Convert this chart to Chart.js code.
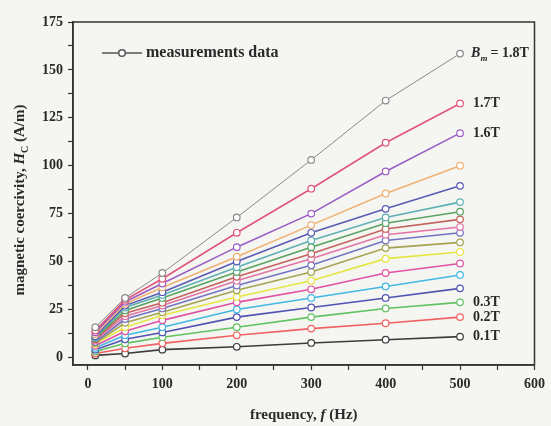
<!DOCTYPE html>
<html>
<head>
<meta charset="utf-8">
<script src="https://cdn.jsdelivr.net/npm/chart.js@4/dist/chart.umd.min.js"></script>
<style>
  body { margin: 0; background: #f5f5f2; }
  canvas { display: block; }
</style>
</head>
<body>
<canvas id="hcChart" width="551" height="426"></canvas>
<script>
// frequency points (Hz)
const freq = [10, 50, 100, 200, 300, 400, 500];

// coercivity Hc (A/m) for each peak flux density Bm
const hc18 = [15.7, 31, 44, 73, 103, 134, 158.5];
const hc17 = [14, 30, 41, 65, 88, 112, 132.5];
const hc16 = [13, 29, 38.5, 57.5, 75, 97, 117];
const hc15 = [12, 28, 36.5, 52.5, 69, 85.5, 100];
const hc14 = [11, 27, 34, 50, 65, 77.5, 89.5];
const hc13 = [10.5, 26, 32.5, 47, 61, 73, 81];
const hc12 = [10, 24.5, 31, 44.5, 57.5, 70, 76];
const hc11 = [9.5, 23, 28.5, 42, 54, 67, 72];
const hc10 = [8.8, 21.5, 27, 40, 51.5, 64, 68];
const hc09 = [8, 20, 25.5, 37.5, 48, 61, 65];
const hc08 = [7.5, 18, 23.5, 35, 44.5, 57, 60];
const hc07 = [7, 15.7, 22, 31.5, 40, 51.5, 55];
const hc06 = [6, 13.6, 19.3, 28.7, 35.5, 44, 49];
const hc05 = [5, 11.5, 15.7, 25, 31, 37, 43];
const hc04 = [4, 9.4, 13, 21, 26, 31, 36];
const hc03 = [3, 7.3, 10.5, 15.7, 21, 25.5, 28.7];
const hc02 = [2, 4.7, 7.3, 11.5, 15, 17.8, 21];
const hc01 = [1, 2, 4, 5.5, 7.5, 9.2, 10.8];

const bmLabels = ['1.8T', '1.7T', '1.6T', '1.5T', '1.4T', '1.3T', '1.2T', '1.1T', '1.0T',
                  '0.9T', '0.8T', '0.7T', '0.6T', '0.5T', '0.4T', '0.3T', '0.2T', '0.1T'];
const series = [hc18, hc17, hc16, hc15, hc14, hc13, hc12, hc11, hc10,
                hc09, hc08, hc07, hc06, hc05, hc04, hc03, hc02, hc01];
const colors = ['#8a8a8a', '#e0557a', '#9b5fc4', '#f0b274', '#5b5bb4', '#5fb0b4',
                '#5aa463', '#c4625f', '#e274a6', '#7474c4', '#a4a452', '#e6e642',
                '#e052a4', '#42b8e2', '#5252b2', '#62c262', '#f06262', '#3c3c3c'];
// which series get a text tag at their right end
const tagged = { '1.8T': 'Bm', '1.7T': '1.7T', '1.6T': '1.6T', '0.3T': '0.3T', '0.2T': '0.2T', '0.1T': '0.1T' };
const legendText = 'measurements data';

const serif = "'Liberation Serif', 'DejaVu Serif', serif";
const ink = '#2a2a2a';

const datasets = series.map((vals, i) => ({
    label: bmLabels[i],
    data: freq.map((f, k) => ({ x: f, y: vals[k] })),
    borderColor: colors[i],
    borderWidth: i === 0 ? 1 : 1.6,
    pointRadius: 3.3,
    pointBackgroundColor: '#ffffff',
    pointBorderColor: colors[i],
    pointBorderWidth: 1.2,
    fill: false,
    tension: 0
}));

const framePlugin = {
    id: 'frame',
    afterDraw(chart) {
        const { ctx, chartArea: a } = chart;
        ctx.save();
        ctx.strokeStyle = '#333';
        ctx.lineWidth = 1.5;
        ctx.strokeRect(a.left, a.top, a.right - a.left, a.bottom - a.top);

        // legend: line with an open circle, then the text
        const ly = a.top + 31;
        ctx.strokeStyle = '#555';
        ctx.lineWidth = 1.5;
        ctx.beginPath(); ctx.moveTo(a.left + 29, ly); ctx.lineTo(a.left + 69, ly); ctx.stroke();
        ctx.fillStyle = '#fff';
        ctx.beginPath(); ctx.arc(a.left + 49, ly, 3.3, 0, Math.PI * 2); ctx.fill(); ctx.stroke();
        ctx.fillStyle = ink;
        ctx.font = 'bold 16px ' + serif;
        ctx.textBaseline = 'middle';
        ctx.fillText(legendText, a.left + 73, ly);

        // end-of-line tags
        chart.data.datasets.forEach((ds, i) => {
            const tag = tagged[ds.label];
            if (!tag) return;
            const meta = chart.getDatasetMeta(i);
            const pt = meta.data[meta.data.length - 1];
            let x = pt.x + 11;
            const y = pt.y;
            if (tag === 'Bm') {
                ctx.font = 'italic bold 14px ' + serif;
                ctx.fillText('B', x, y);
                x += ctx.measureText('B').width;
                ctx.font = 'italic bold 9px ' + serif;
                ctx.fillText('m', x, y + 5);
                x += ctx.measureText('m').width + 3;
                ctx.font = 'bold 14px ' + serif;
                ctx.fillText('= 1.8T', x, y);
            } else {
                ctx.font = 'bold 14px ' + serif;
                ctx.fillText(tag, x + 2, y);
            }
        });

        // x axis title
        ctx.textBaseline = 'alphabetic';
        const xParts = [['bold 15px ', 'frequency, '], ['italic bold 15px ', 'f'], ['bold 15px ', ' (Hz)']];
        let w = 0;
        xParts.forEach(p => { ctx.font = p[0] + serif; w += ctx.measureText(p[1]).width; });
        let xx = (a.left + a.right) / 2 - w / 2;
        xParts.forEach(p => {
            ctx.font = p[0] + serif;
            ctx.fillText(p[1], xx, 419);
            xx += ctx.measureText(p[1]).width;
        });

        // y axis title, rotated
        ctx.translate(24, 200);
        ctx.rotate(-Math.PI / 2);
        const yParts = [['bold 15px ', 'magnetic coercivity, ', 0], ['italic bold 15px ', 'H', 0],
                        ['bold 10px ', 'C', 4], ['bold 15px ', ' (A/m)', 0]];
        w = 0;
        yParts.forEach(p => { ctx.font = p[0] + serif; w += ctx.measureText(p[1]).width; });
        xx = -w / 2;
        yParts.forEach(p => {
            ctx.font = p[0] + serif;
            ctx.fillText(p[1], xx, p[2]);
            xx += ctx.measureText(p[1]).width;
        });
        ctx.restore();
    }
};

const chart = new Chart(document.getElementById('hcChart'), {
    type: 'line',
    data: { datasets: datasets },
    plugins: [framePlugin],
    options: {
        responsive: false,
        animation: false,
        layout: { padding: { top: 22, right: 11, left: 0, bottom: 0 } },
        scales: {
            x: {
                type: 'linear',
                min: -20,
                max: 600,
                afterFit: (s) => { s.height = 61; },
                ticks: {
                    stepSize: 50,
                    includeBounds: false,
                    autoSkip: false,
                    maxRotation: 0,
                    padding: 6,
                    color: ink,
                    font: { family: serif, size: 14, weight: 'bold' },
                    callback: (v) => (v % 100 === 0 ? String(v) : '')
                },
                grid: {
                    drawOnChartArea: false,
                    drawTicks: true,
                    tickLength: 5,
                    tickColor: '#333',
                    tickWidth: 1.2
                },
                border: { display: true, color: '#333', width: 1.5 }
            },
            y: {
                min: -4,
                max: 175,
                afterFit: (s) => { s.width = 73; },
                ticks: {
                    stepSize: 12.5,
                    includeBounds: false,
                    autoSkip: false,
                    padding: 5,
                    color: ink,
                    font: { family: serif, size: 14, weight: 'bold' },
                    callback: (v) => (v % 25 === 0 ? String(v) : '')
                },
                grid: {
                    drawOnChartArea: false,
                    drawTicks: true,
                    tickLength: 5,
                    tickColor: '#333',
                    tickWidth: 1.2
                },
                border: { display: true, color: '#333', width: 1.5 }
            }
        },
        plugins: {
            tooltip: { enabled: false },
            legend: { display: false }
        }
    }
});
</script>
</body>
</html>
